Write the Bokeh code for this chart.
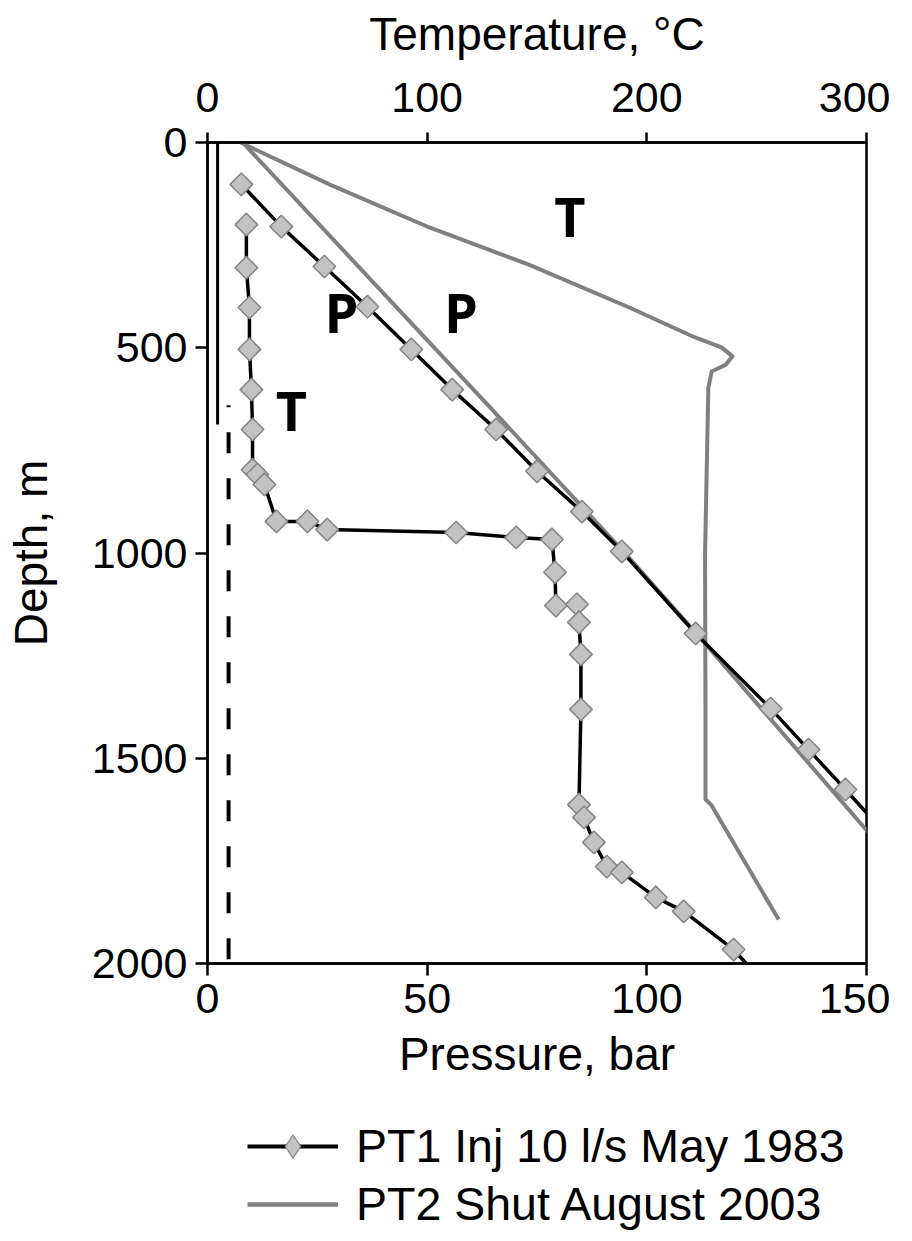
from bokeh.plotting import figure
from bokeh.layouts import column
from bokeh.models import Range1d, LinearAxis, Legend, LegendItem, FixedTicker
from bokeh.embed import file_html
from bokeh.resources import INLINE
from bokeh.core.properties import value
import math

# ---------------- data ----------------
# PT1 Inj 10 l/s May 1983 - pressure profile (bar vs depth m)
pt1_p_depth = [102, 205, 302, 400, 504, 602, 699, 801, 899, 996, 1196, 1379, 1479, 1576, 1700]
pt1_p_bar = [7.7, 16.8, 26.6, 36.4, 46.4, 55.7, 65.7, 75.0, 85.2, 94.3, 111.1, 128.2, 136.8, 145.2, 155.7]

# PT1 Inj 10 l/s May 1983 - temperature profile (degC vs depth m)
pt1_t_depth = [200, 305, 402, 504, 602, 699, 797, 809, 833, 923, 923, 943, 950, 962, 967,
               1047, 1128, 1125, 1169, 1247, 1381, 1613, 1644, 1705, 1764, 1778, 1839, 1873,
               1966, 2040]
pt1_t_degc = [17.7, 17.7, 19.1, 19.1, 20.0, 20.5, 20.5, 22.7, 25.9, 31.4, 45.5, 54.5, 113.2,
              140.5, 156.8, 158.2, 158.6, 168.2, 169.1, 170.0, 170.0, 169.1, 171.4, 175.9,
              181.8, 188.6, 204.1, 216.8, 239.5, 252.0]

# PT2 Shut August 2003 - pressure profile
pt2_p_depth = [0, 643, 1000, 1196, 1700]
pt2_p_bar = [8.0, 64.1, 95.0, 111.3, 152.0]

# PT2 Shut August 2003 - temperature profile
pt2_t_depth = [0, 102, 207, 297, 402, 475, 499, 521, 541, 558, 597, 1004, 1400, 1600, 1615, 1893]
pt2_t_degc = [15.0, 55.5, 101.0, 146.0, 192.0, 222.0, 234.0, 239.0, 236.0, 229.5, 228.0,
              226.5, 226.7, 226.7, 229.5, 260.0]

# casing (solid) and liner (dashed) markers, pressure-axis units
casing_depth = [0, 687]
casing_p = [2.3, 2.3]
liner_depth = [640, 2000]
liner_p = [4.8, 4.8]

# curve labels
lbl_text = ["T", "P", "P", "T"]
lbl_p = [82.5, 30.5, 57.7, 19.1]
lbl_depth = [178, 414, 414, 651]

legend_labels = ["PT1 Inj 10 l/s May 1983", "PT2 Shut August 2003"]

pressure_ticks = [0, 50, 100, 150]
temperature_ticks = [0, 100, 200, 300]
depth_ticks = [0, 500, 1000, 1500, 2000]

# ---------------- styles ----------------
FONT = "Liberation Sans"
GRAY = "#808080"
MFILL = "#c2c2c2"
MLINE = "#858585"
MSIZE = 16

# ---------------- main figure ----------------
p = figure(width=890, height=1098, output_backend="svg", toolbar_location=None,
           x_range=Range1d(0, 150), y_range=Range1d(2000, 0),
           min_border_left=207, min_border_right=24, min_border_top=142, min_border_bottom=135)
p.extra_x_ranges = {"temp": Range1d(0, 300)}
p.xgrid.visible = False
p.ygrid.visible = False
p.outline_line_color = "black"
p.outline_line_width = 2.5
p.background_fill_color = "white"
p.border_fill_color = "white"

top = LinearAxis(x_range_name="temp")
p.add_layout(top, "above")

for ax in p.xaxis:
    if ax is top:
        ax.ticker = FixedTicker(ticks=temperature_ticks)
        ax.axis_label = "Temperature, °C"
    else:
        ax.ticker = FixedTicker(ticks=pressure_ticks)
        ax.axis_label = "Pressure, bar"
p.yaxis[0].ticker = FixedTicker(ticks=depth_ticks)
p.yaxis[0].axis_label = "Depth, m"

for ax in list(p.xaxis) + list(p.yaxis):
    ax.major_label_text_font = FONT
    ax.major_label_text_font_size = "43px"
    ax.major_label_text_color = "black"
    ax.axis_label_text_font = FONT
    ax.axis_label_text_font_size = "46px"
    ax.axis_label_text_font_style = "normal"
    ax.axis_label_text_color = "black"
    ax.minor_tick_line_color = None
    ax.major_tick_out = 12
    ax.major_tick_in = 0
    ax.major_tick_line_width = 2.5
    ax.axis_line_width = 2.5
    ax.major_tick_line_color = "black"
    ax.axis_line_color = "black"
    ax.major_label_standoff = 8
    ax.axis_label_standoff = 12
top.major_tick_out = 10
top.major_label_standoff = 21
top.axis_label_standoff = 20
p.yaxis[0].axis_label_standoff = 32

# casing + liner
p.line(casing_p, casing_depth, line_color="black", line_width=3)
p.line(liner_p, liner_depth, line_color="black", line_width=4,
       line_dash="21 25", line_dash_offset=19)

# PT2 curves (gray)
p.line(pt2_p_bar, pt2_p_depth, line_color=GRAY, line_width=4, line_join="round")
p.line(pt2_t_degc, pt2_t_depth, x_range_name="temp", line_color=GRAY, line_width=4,
       line_join="round")

# PT1 curves (black line with gray diamonds)
p.line(pt1_p_bar, pt1_p_depth, line_color="black", line_width=3.5, line_join="round")
p.scatter(pt1_p_bar[:-1], pt1_p_depth[:-1], marker="square", size=MSIZE,
          angle=math.pi / 4, fill_color=MFILL, line_color=MLINE, line_width=1.5)
p.line(pt1_t_degc, pt1_t_depth, x_range_name="temp", line_color="black", line_width=3.5,
       line_join="round")
p.scatter(pt1_t_degc[:-1], pt1_t_depth[:-1], x_range_name="temp", marker="square", size=MSIZE,
          angle=math.pi / 4, fill_color=MFILL, line_color=MLINE, line_width=1.5)

# curve labels
p.text(x=lbl_p, y=lbl_depth, text=lbl_text, text_font=value("Open Sans"),
       text_font_style="bold", text_font_size="54px", text_align="center",
       text_baseline="middle", text_color="black")

# ---------------- legend strip ----------------
# The series are re-plotted here only as legend keys; the strip's ranges lie
# outside all data so nothing but the legend is visible.
lg = figure(width=890, height=135, output_backend="svg", toolbar_location=None,
            x_range=Range1d(-2, -1), y_range=Range1d(-2, -1),
            min_border_left=0, min_border_right=0, min_border_top=0, min_border_bottom=0)
lg.axis.visible = False
lg.xgrid.visible = False
lg.ygrid.visible = False
lg.outline_line_color = None
lg.background_fill_color = "white"
lg.border_fill_color = "white"

k1_line = lg.line(pt1_p_bar, pt1_p_depth, line_color="black", line_width=4)
k1_mark = lg.scatter(pt1_p_bar, pt1_p_depth, marker="diamond", size=17,
                     fill_color=MFILL, line_color=MLINE, line_width=1.2)
k2_line = lg.line(pt2_p_bar, pt2_p_depth, line_color=GRAY, line_width=4.5)

legend = Legend(items=[
    LegendItem(label=legend_labels[0], renderers=[k1_line, k1_mark]),
    LegendItem(label=legend_labels[1], renderers=[k2_line]),
], location=(40, 0), orientation="vertical")
legend.label_text_font = FONT
legend.label_text_font_size = "46.5px"
legend.label_text_color = "black"
legend.glyph_width = 91
legend.glyph_height = 58
legend.label_height = 58
legend.label_standoff = 18
legend.spacing = 0
legend.padding = 0
legend.margin = 0
legend.border_line_alpha = 0
legend.background_fill_alpha = 0
lg.add_layout(legend, "center")

layout = column(p, lg, spacing=0)
open("out.html", "w").write(file_html(layout, INLINE))
